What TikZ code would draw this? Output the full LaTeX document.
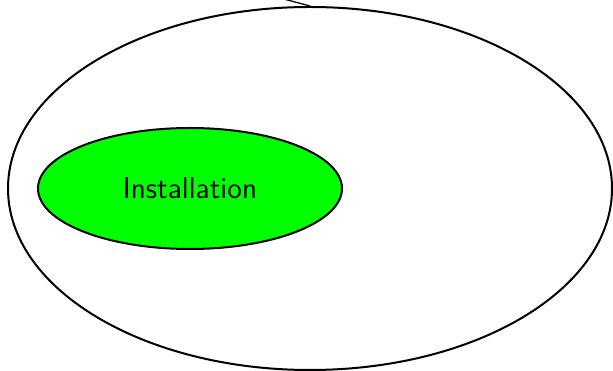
\documentclass[tikz,border=0pt]{standalone}
\usetikzlibrary{shapes.geometric}
\begin{document}
\begin{tikzpicture}[x=0.4pt,y=-0.4pt,
  ell/.style={draw=black, line width=0.8pt, ellipse, inner sep=0pt},
  conn/.style={draw=black, line width=0.5pt}]
\useasboundingbox (0,0) rectangle (613,371);
\node[ell, minimum width=241.6pt, minimum height=145.2pt] (outer) at (310,188.5) {};
\node[ell, fill={rgb,255:red,0;green,255;blue,0}, minimum width=121.6pt, minimum height=48.4pt, font=\sffamily\fontsize{12}{14}\selectfont] (inst) at (190,188.5) {Installation};
\coordinate (ext) at (250,-10);
\draw[conn] (outer.north) -- (ext);
\end{tikzpicture}
\end{document}
